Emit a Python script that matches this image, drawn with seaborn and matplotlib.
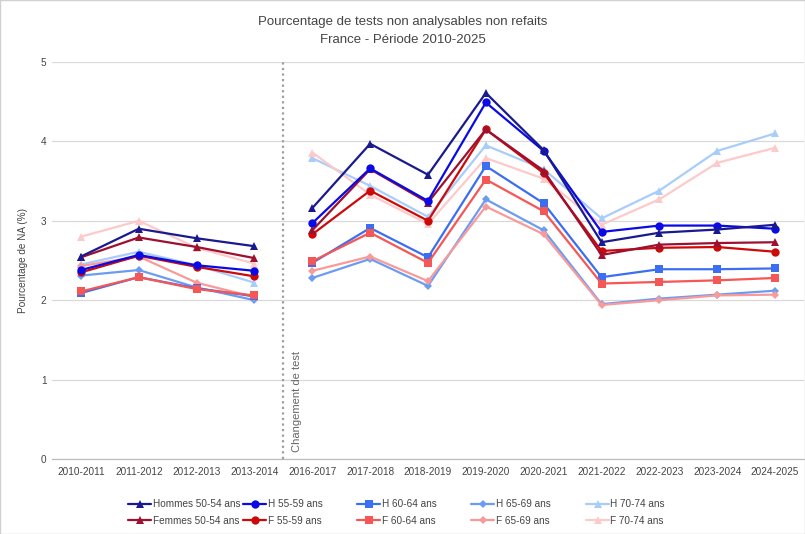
import matplotlib
matplotlib.use("Agg")
import matplotlib.pyplot as plt
from matplotlib.lines import Line2D
import numpy as np
import pandas as pd
import seaborn as sns

sns.set_theme(style="white")
plt.rcParams["font.family"] = ["Liberation Sans", "DejaVu Sans"]

periods = ["2010-2011", "2011-2012", "2012-2013", "2013-2014",
           "2016-2017", "2017-2018", "2018-2019", "2019-2020", "2020-2021",
           "2021-2022", "2022-2023", "2023-2024", "2024-2025"]

# Percentages per group (first 4 values: old test, remaining 9: new test)
h_50_54 = [2.55, 2.90, 2.78, 2.68, 3.16, 3.97, 3.58, 4.61, 3.89, 2.73, 2.85, 2.89, 2.95]
h_55_59 = [2.38, 2.57, 2.44, 2.37, 2.97, 3.66, 3.25, 4.49, 3.88, 2.86, 2.94, 2.94, 2.90]
h_60_64 = [2.09, 2.29, 2.15, 2.05, 2.47, 2.91, 2.54, 3.69, 3.22, 2.29, 2.39, 2.39, 2.40]
h_65_69 = [2.31, 2.38, 2.16, 2.00, 2.28, 2.52, 2.18, 3.27, 2.88, 1.95, 2.02, 2.07, 2.12]
h_70_74 = [2.45, 2.61, 2.44, 2.22, 3.79, 3.44, 3.05, 3.95, 3.65, 3.03, 3.38, 3.88, 4.10]
f_50_54 = [2.54, 2.79, 2.67, 2.53, 2.88, 3.65, 3.23, 4.15, 3.63, 2.57, 2.70, 2.72, 2.73]
f_55_59 = [2.35, 2.56, 2.42, 2.30, 2.83, 3.38, 3.00, 4.15, 3.60, 2.62, 2.66, 2.67, 2.61]
f_60_64 = [2.11, 2.29, 2.14, 2.06, 2.49, 2.85, 2.47, 3.52, 3.12, 2.21, 2.23, 2.25, 2.28]
f_65_69 = [2.43, 2.55, 2.22, 2.04, 2.37, 2.55, 2.24, 3.18, 2.83, 1.94, 2.00, 2.06, 2.07]
f_70_74 = [2.80, 3.00, 2.66, 2.46, 3.86, 3.33, 2.96, 3.79, 3.53, 2.95, 3.27, 3.73, 3.92]

series = [
    ("Hommes 50-54 ans", h_50_54, "#1a1a8e", "^", 6),
    ("Femmes 50-54 ans", f_50_54, "#9c1030", "^", 6),
    ("H 55-59 ans", h_55_59, "#0a0ae6", "o", 6),
    ("F 55-59 ans", f_55_59, "#cc0a0a", "o", 6),
    ("H 60-64 ans", h_60_64, "#3b6ef0", "s", 5.5),
    ("F 60-64 ans", f_60_64, "#f55656", "s", 5.5),
    ("H 65-69 ans", h_65_69, "#6c9cf2", "D", 4),
    ("F 65-69 ans", f_65_69, "#f99a9a", "D", 4),
    ("H 70-74 ans", h_70_74, "#a9cdfb", "^", 6),
    ("F 70-74 ans", f_70_74, "#fdcaca", "^", 6),
]

rows = []
for name, vals, *_ in series:
    for i, (p, v) in enumerate(zip(periods, vals)):
        rows.append({"serie": name, "pos": i, "periode": p,
                     "segment": "ancien" if i < 4 else "nouveau", "valeur": v})
df = pd.DataFrame(rows)

fig = plt.figure(figsize=(8.05, 5.34), dpi=100)
ax = fig.add_axes([52 / 805, 1 - 459 / 534, 752 / 805, 397 / 534])

# Draw from the palest series to the darkest so dark lines stay on top
draw_order = [8, 9, 6, 7, 4, 5, 3, 1, 2, 0]
for k in draw_order:
    name, vals, color, marker, ms = series[k]
    sub = df[df["serie"] == name]
    for seg, part in sub.groupby("segment"):
        sns.lineplot(data=part, x="pos", y="valeur", ax=ax, color=color,
                     marker=marker, markersize=ms, markeredgewidth=0,
                     linewidth=1.6, estimator=None, sort=True, legend=False)

ax.set_xlim(-0.5, len(periods) - 0.5)
ax.set_ylim(0, 5)
ax.set_xticks(range(len(periods)))
ax.set_xticklabels(periods)
ax.set_yticks(range(0, 6))
ax.tick_params(axis="both", labelsize=7.2, colors="#444444", length=0)
ax.tick_params(axis="x", pad=6)
ax.tick_params(axis="y", pad=4)
ax.set_xlabel("")
ax.set_ylabel("Pourcentage de NA (%)", fontsize=7.2, color="#444444", labelpad=9)
ax.grid(axis="y", color="#d9d9d9", linewidth=0.9)
for s in ["top", "right", "left"]:
    ax.spines[s].set_visible(False)
ax.spines["bottom"].set_color("#bdbdbd")
ax.spines["bottom"].set_linewidth(0.9)

# Test change marker between the two periods
ax.axvline(3.5, color="#9e9e9e", linestyle=(0, (1, 1.5)), linewidth=1.6)
ax.text(3.74, 0.09, "Changement de test", rotation=90, fontsize=8,
        color="#666666", ha="center", va="bottom")

fig.text(0.5, 1 - 22 / 534, "Pourcentage de tests non analysables non refaits",
         ha="center", va="center", fontsize=9.5, color="#444444")
fig.text(0.5, 1 - 40 / 534, "France - Période 2010-2025",
         ha="center", va="center", fontsize=9.5, color="#444444")

# Legend: five columns of two entries (Hommes on top, Femmes below)
col_x = [128, 243, 357, 471, 586]
for c in range(5):
    handles = []
    for name, vals, color, marker, ms in series[2 * c:2 * c + 2]:
        handles.append(Line2D([0], [0], color=color, marker=marker,
                              markersize=ms, markeredgewidth=0,
                              linewidth=1.6, label=name))
    fig.legend(handles=handles, loc="upper left",
               bbox_to_anchor=(col_x[c] / 805, 1 - 499 / 534),
               frameon=False, fontsize=7.2, handlelength=2.3,
               handletextpad=0.15, borderpad=0, borderaxespad=0,
               labelspacing=0.65, labelcolor="#444444")

# Thin frame around the whole image
fig.add_artist(plt.Rectangle((0, 0), 1, 1, transform=fig.transFigure,
                             fill=False, edgecolor="#d0d0d0", linewidth=1))

fig.savefig("out.png", dpi=100)
